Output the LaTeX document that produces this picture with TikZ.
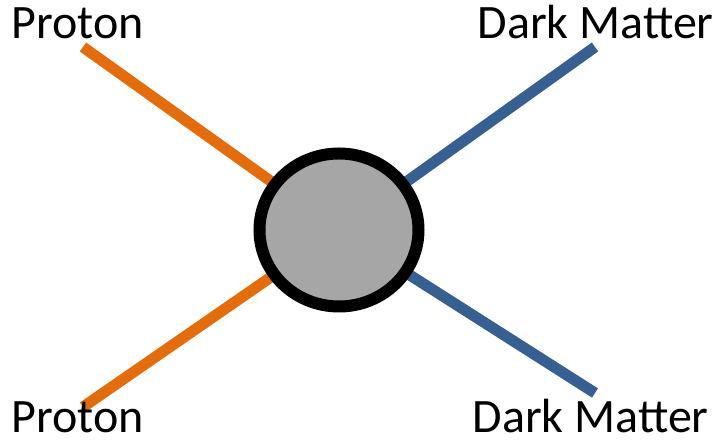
\documentclass[tikz,border=0pt]{standalone}
\usepackage{fontspec}
\setmainfont{Carlito}
\usepackage{tikz}
\usetikzlibrary{shapes.geometric,backgrounds}
\definecolor{protonorange}{HTML}{E46C0A}
\definecolor{dmblue}{HTML}{376092}
\definecolor{blobgray}{HTML}{A6A6A6}

\begin{document}
\begin{tikzpicture}[x=0.5pt,y=-0.5pt, blob/.style={ellipse,draw=black,fill=blobgray,line width=6pt,minimum width=79.5pt,minimum height=76.5pt,inner sep=0pt}, proton/.style={protonorange,line width=5.5pt}, dm/.style={dmblue,line width=5.5pt}, lbl/.style={font=\fontsize{24}{29}\selectfont,inner sep=0pt}]
\useasboundingbox (0,0) rectangle (720,442);

\node(v)[blob] at (339,230) {};

\coordinate (p1) at (83,47);
\coordinate (p2) at (83,407);
\coordinate (d1) at (595,47);
\coordinate (d2) at (595,393);

\node(lp1)[lbl,anchor=base west] at (11,39) {Proton};
\node(lp2)[lbl,anchor=base west] at (11,433) {Proton};
\node(ld1)[lbl,anchor=base east] at (714,39) {Dark Matter};
\node(ld2)[lbl,anchor=base east] at (709,433) {Dark Matter};

\begin{scope}[on background layer]
\draw [proton] (p1) -- (v.center);
\draw [proton] (p2) -- (v.center);
\draw [dm] (d1) -- (v.center);
\draw [dm] (d2) -- (v.center);
\end{scope}
\end{tikzpicture}
\end{document}
